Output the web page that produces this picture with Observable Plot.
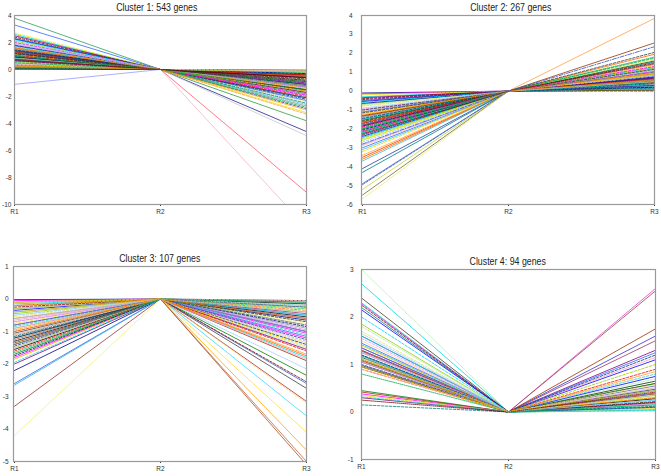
<!DOCTYPE html>
<html>
<head>
<meta charset="utf-8">
<script src="https://cdn.jsdelivr.net/npm/d3@7"></script>
<script src="https://cdn.jsdelivr.net/npm/@observablehq/plot@0.6"></script>
<style>
  html, body { margin: 0; padding: 0; background: white; }
  #root { position: relative; width: 661px; height: 476px; overflow: hidden; background: white; }
  .panel { position: absolute; }
  .panel svg { position: absolute; left: 0; top: 0; }
  .title { position: absolute; text-align: center; font-family: "Liberation Sans", Arial, sans-serif; font-size: 11px; color: #222; white-space: nowrap; line-height: 12px; }
  .title span { display: inline-block; transform: scaleX(0.8); transform-origin: center; }
</style>
</head>
<body>
<div id="root"></div>
<script>
// ---- data ----
const conditions = ["R1", "R2", "R3"];
const r2Ref = 0; // every gene is normalised to R2

const titles = ["Cluster 1: 543 genes", "Cluster 2: 267 genes", "Cluster 3: 107 genes", "Cluster 4: 94 genes"];

const c1_r1 = [3.8, 3.3, 2.7, 2.6, 2.5, 2.4, 2.3, 2.25, 2.2, 2.1, 2.05, 2.0, 1.95, 1.9, 1.85, 1.8, 1.75, 1.7, 1.65, 1.6, 1.55, 1.5, 1.5, 1.45, 1.4, 1.35, 1.3, 1.3, 1.25, 1.2, 1.15, 1.1, 1.05, 1.0, 1.0, 0.95, 0.9, 0.85, 0.8, 0.8, 0.75, 0.7, 0.65, 0.6, 0.6, 0.55, 0.5, 0.5, 0.45, 0.4, 0.4, 0.35, 0.3, 0.3, 0.25, 0.2, 0.2, 0.15, 0.1, 0.1, 0.05, 0.02, -1.1, 1.6, 1.4, 1.2, 0.9, 0.7, 0.5, 0.3, 1.8, 2.0, 1.1, 0.85, 0.65];
const c1_r3 = [-0.6, -0.9, -1.2, -0.4, -1.5, -0.8, -2.1, -1.0, -0.3, -1.7, -0.5, -2.4, -1.3, -0.7, -1.9, -0.2, -1.1, -2.6, -0.9, -1.4, -11.7, -0.6, -1.8, -2.2, -1.0, -0.4, -9.1, -1.6, -0.8, -2.9, -1.2, -0.5, -2.0, -1.5, -4.6, -0.3, -1.3, -3.3, -0.9, -1.7, -0.6, -2.5, -1.1, -3.8, -0.2, -1.4, -0.7, -4.9, -1.9, -1.0, -0.1, -2.3, -0.8, -1.6, -3.0, -0.5, -1.2, -2.7, -0.3, -1.8, -0.05, -0.9, -0.15, -1.3, -2.1, -0.7, -1.5, -0.4, -2.8, -1.1, -0.6, -1.9, -3.2, -0.25, -1.0];

const c2_r1 = [-0.1, -0.15, -0.2, -0.3, -0.35, -0.4, -0.5, -0.55, -0.6, -0.7, -0.75, -0.8, -0.9, -0.95, -1.0, -1.05, -1.1, -1.15, -1.2, -1.25, -1.3, -1.35, -1.4, -1.45, -1.5, -1.55, -1.6, -1.65, -1.7, -1.75, -1.8, -1.85, -1.9, -1.95, -2.0, -2.05, -2.1, -2.15, -2.2, -2.25, -2.3, -2.35, -2.4, -2.45, -2.5, -2.55, -2.6, -2.7, -2.8, -2.85, -2.9, -3.0, -3.1, -3.2, -3.4, -3.5, -3.6, -3.7, -4.1, -4.3, -4.9, -4.95, -5.2, -5.5, -5.7, -1.0, -1.3, -1.7, -2.0, -2.2, -0.65, -1.9, -2.6, -1.5, -0.45];
const c2_r3 = [0.6, 0.3, 1.2, 0.1, 0.9, 1.5, 0.4, 0.05, 1.1, 0.7, 0.2, 1.7, 0.5, 0.95, 0.15, 1.3, 0.8, 2.05, 0.35, 0.6, 1.0, 0.25, 1.4, 0.75, 0.1, 1.6, 0.45, 0.85, 3.85, 0.3, 1.2, 0.55, 0.0, 1.8, 0.65, 0.2, 1.05, 2.55, 0.4, 0.9, 1.45, 0.15, 0.7, 1.25, 0.5, 0.05, 1.65, 0.8, 2.35, 0.35, 1.1, 0.6, 0.25, 1.35, 0.95, 0.45, 1.95, 0.1, 0.75, 1.55, 0.3, 1.0, 0.55, 0.2, 0.85, 1.15, 0.4, 0.65, 1.75, 0.05, 0.5, 1.3, 0.9, 0.15, 0.7];

const c3_r1 = [-0.02, -0.05, -0.1, -0.15, -0.2, -0.25, -0.3, -0.35, -0.4, -0.45, -0.5, -0.55, -0.6, -0.65, -0.7, -0.75, -0.8, -0.85, -0.9, -0.95, -1.0, -1.05, -1.1, -1.15, -1.2, -1.25, -1.3, -1.35, -1.4, -1.45, -1.5, -1.55, -1.6, -1.65, -1.7, -1.75, -1.8, -1.85, -1.95, -2.0, -2.2, -2.6, -2.65, -3.3, -4.2, -0.1, -0.3, -0.5, -0.7, -0.9, -1.1, -1.3, -1.5, -0.2, -0.4, -0.6, -0.8, -1.0, -1.2, -1.4];
const c3_r3 = [-0.05, -1.2, -0.3, -1.8, -0.6, -2.55, -0.1, -1.0, -3.6, -0.4, -1.5, -0.2, -2.15, -0.8, -1.3, -4.1, -0.5, -1.1, -0.15, -1.7, -0.35, -2.75, -0.9, -1.4, -0.25, -5.0, -0.7, -1.9, -0.45, -1.25, -3.2, -0.55, -1.6, -0.1, -2.35, -0.85, -1.05, -4.65, -0.3, -1.55, -0.65, -2.6, -0.2, -3.15, -0.75, -5.1, -1.35, -0.4, -1.85, -0.95, -0.05, -1.15, -0.5, -1.45, -0.6, -1.75, -0.25, -1.0, -0.15, -0.8];

const c4_r1 = [3.0, 2.7, 2.4, 2.3, 2.28, 2.25, 2.2, 2.15, 2.0, 1.85, 1.8, 1.7, 1.65, 1.6, 1.55, 1.5, 1.45, 1.42, 1.4, 1.35, 1.3, 1.28, 1.25, 1.2, 1.18, 1.15, 1.1, 1.08, 1.05, 1.0, 0.98, 0.95, 0.9, 0.8, 0.45, 0.42, 0.38, 0.35, 0.32, 0.3, 0.25, 0.15, 1.3, 1.2, 1.1, 1.0, 1.4, 1.15, 1.25, 1.05, 0.9, 1.35, 1.6, 0.95, 1.12];
const c4_r3 = [0.3, 0.15, 0.6, 0.05, 2.6, 0.2, 0.45, 1.1, 0.1, 0.35, 0.7, 0.02, 0.25, 1.6, 0.5, 0.12, 0.4, 0.8, 0.08, 2.55, 0.3, 0.55, 0.18, 1.2, 0.05, 0.65, 0.22, 0.38, 1.5, 0.1, 0.48, 0.28, 0.9, 0.15, 0.6, 1.75, 0.2, 0.32, 0.03, 1.3, 0.42, 0.12, 0.75, 0.25, 1.0, 0.06, 0.52, 0.35, 1.15, 0.18, 0.58, 1.25, 0.1, 0.45, 0.85];

const c1_ticks = [4, 2, 0, -2, -4, -6, -8, -10];
const c2_ticks = [4, 3, 2, 1, 0, -1, -2, -3, -4, -5, -6];
const c3_ticks = [1, 0, -1, -2, -3, -4, -5];
const c4_ticks = [3, 2, 1, 0, -1];

// ---- styles ----
const palette = ["#000080", "#FF00FF", "#E8E800", "#00E0E0", "#800080", "#800000", "#008080", "#0000FF",
  "#00CCFF", "#99CC00", "#B8F0B8", "#E0E070", "#99CCFF", "#FF99CC", "#CC99FF", "#FFCC99", "#3366FF",
  "#33CCCC", "#FFCC00", "#FF9900", "#FF6600", "#666699", "#969696", "#003366", "#339966", "#003300",
  "#333300", "#993300", "#993366", "#333399", "#333333", "#000000", "#FF0000", "#00B050", "#008000"];
// colours of the lines that stand out in each panel (index -> style)
const c1_style = {0: {c: "#2E9E5A"}, 1: {c: "#3366FF"}, 62: {c: "#9999FF"}, 20: {c: "#F0B8C0"}, 26: {c: "#FF5A6E"},
  34: {c: "#1F1F8F"}, 37: {c: "#FFA040", d: "2.5,1.5"}, 43: {c: "#2E9E3E"}, 47: {c: "#C8C8C8"}};
const c2_style = {64: {c: "#E8E880"}, 63: {c: "#6B6B2E"}, 62: {c: "#C8D040"}, 61: {c: "#4060C0", d: "2.5,1.5"},
  60: {c: "#4060C0"}, 59: {c: "#008080"}, 58: {c: "#2040A0"}, 57: {c: "#40C0C0"}, 56: {c: "#FF6600"}, 55: {c: "#FF3300"},
  28: {c: "#FFA040"}, 37: {c: "#993300"}, 48: {c: "#3050C0", d: "4,1.5,1,1.5"}, 17: {c: "#333333", d: "2.5,1.5"}};
const c3_style = {44: {c: "#F0F080"}, 43: {c: "#993333"}, 42: {c: "#33AAFF"}, 41: {c: "#3366CC"}, 40: {c: "#000080"},
  25: {c: "#CC6633"}, 45: {c: "#A0522D"}, 37: {c: "#FFA500"}, 15: {c: "#FFE040"}, 8: {c: "#33DDFF"},
  30: {c: "#FFCC66", d: "2.5,1.5"}, 21: {c: "#404040"}};
const c4_style = {0: {c: "#C0F0C0"}, 1: {c: "#00D8E0"}, 2: {c: "#404020"}, 4: {c: "#E040E0"}, 19: {c: "#A04040"},
  35: {c: "#993300"}, 13: {c: "#3333CC"}};

const FONT = '"Liberation Sans", Arial, sans-serif';
const DASH = "2.5,1.5", DOT = "1,1";

function rows(r1, r3) {
  return r1.flatMap((v, i) => [
    {g: i, c: "R1", v: v},
    {g: i, c: "R2", v: r2Ref},
    {g: i, c: "R3", v: r3[i]}
  ]);
}

function dashOf(g, st) {
  if (st[g]) return st[g].d || "none";
  if (g % 3 === 2) return DASH;
  if (g % 7 === 5) return DOT;
  return "none";
}

function panel(p) {
  const data = rows(p.r1, p.r3);
  const st = p.style;
  const color = d => (st[d.g] ? st[d.g].c : palette[d.g % palette.length]);
  const dashes = Array.from(new Set(p.r1.map((_, g) => dashOf(g, st))));
  const lineMarks = dashes.map(ds => Plot.line(data, {
    x: "c", y: "v", z: "g", stroke: color, strokeWidth: 0.8, clip: true,
    filter: d => dashOf(d.g, st) === ds,
    strokeDasharray: ds === "none" ? null : ds
  }));
  const chart = Plot.plot({
    width: p.w, height: p.h,
    marginLeft: p.ml, marginRight: p.mr, marginTop: p.mt, marginBottom: p.mb,
    style: {fontFamily: FONT, fontSize: "6.5px", color: "#333", background: "white", overflow: "visible"},
    color: {type: "identity"},
    x: {type: "point", domain: conditions, padding: 0, label: null, tickSize: 2, tickPadding: 3},
    y: {domain: p.domain, ticks: p.ticks, tickSize: 0, tickPadding: p.ypad, label: null, tickFormat: d => String(d)},
    marks: [
      ...lineMarks,
      Plot.frame({stroke: "#999", strokeWidth: 1.2})
    ]
  });
  const div = document.createElement("div");
  div.className = "panel";
  div.style.left = p.left + "px";
  div.style.top = p.top + "px";
  div.style.width = p.w + "px";
  div.style.height = p.h + "px";
  div.appendChild(chart);
  const t = document.createElement("div");
  t.className = "title";
  const s = document.createElement("span");
  s.textContent = p.title;
  t.appendChild(s);
  t.style.left = (p.ml + p.tdx) + "px";
  t.style.width = (p.w - p.ml - p.mr) + "px";
  t.style.top = (p.ty - 6) + "px";
  div.appendChild(t);
  document.getElementById("root").appendChild(div);
}

panel({r1: c1_r1, r3: c1_r3, style: c1_style, domain: [-10, 4], ticks: c1_ticks, title: titles[0],
  left: 0, top: 0, w: 330, h: 238, ml: 14, mr: 24, mt: 15, mb: 34, ypad: 3, ty: 7, tdx: -3});
panel({r1: c2_r1, r3: c2_r3, style: c2_style, domain: [-6, 4], ticks: c2_ticks, title: titles[1],
  left: 330, top: 0, w: 331, h: 238, ml: 31, mr: 7, mt: 15, mb: 34, ypad: 9, ty: 7, tdx: 3});
panel({r1: c3_r1, r3: c3_r3, style: c3_style, domain: [-5, 1], ticks: c3_ticks, title: titles[2],
  left: 0, top: 238, w: 330, h: 238, ml: 13, mr: 24, mt: 28, mb: 15, ypad: 5, ty: 20, tdx: 0});
panel({r1: c4_r1, r3: c4_r3, style: c4_style, domain: [-1, 3], ticks: c4_ticks, title: titles[3],
  left: 330, top: 238, w: 331, h: 238, ml: 31, mr: 6, mt: 31, mb: 17, ypad: 8, ty: 23, tdx: 0});
</script>
</body>
</html>
